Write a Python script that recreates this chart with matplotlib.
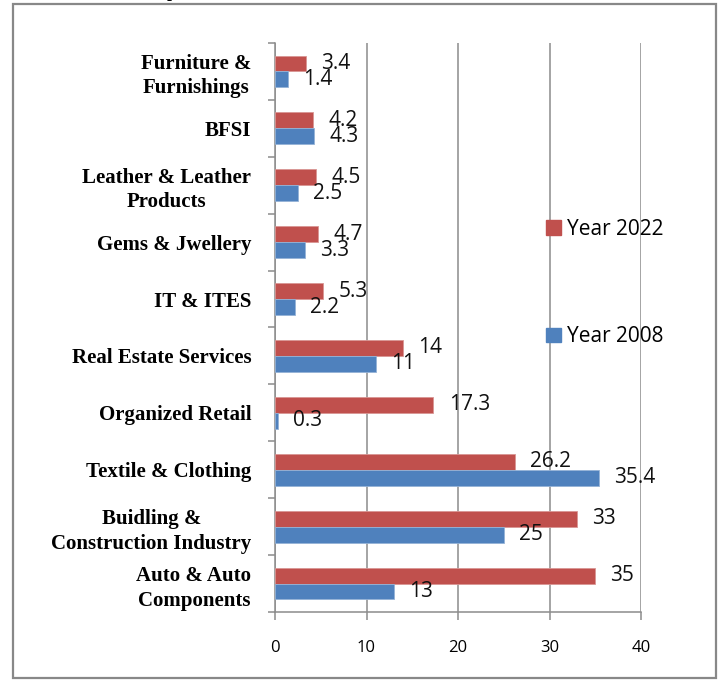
import numpy as np
import matplotlib.pyplot as plt
from matplotlib.patches import Rectangle, Patch

# categories listed bottom -> top
categories = ['Auto & Auto\nComponents', 'Buidling &\nConstruction Industry', 'Textile & Clothing',
              'Organized Retail', 'Real Estate Services', 'IT & ITES', 'Gems & Jwellery',
              'Leather & Leather\nProducts', 'BFSI', 'Furniture &\nFurnishings']
year_2022 = [35, 33, 26.2, 17.3, 14, 5.3, 4.7, 4.5, 4.2, 3.4]
year_2008 = [13, 25, 35.4, 0.3, 11, 2.2, 3.3, 2.5, 4.3, 1.4]
x_ticks = [0, 10, 20, 30, 40]

red = '#C0504D'
blue = '#4F81BD'
grey = '#8c8c8c'
num_font = 'Open Sans'

fig = plt.figure(figsize=(7.2, 6.81), dpi=100)
ax = fig.add_axes([275/720, 1-612/681, (641-275)/720, (612-43)/681])

y = np.arange(len(categories))
h = 0.28
b22 = ax.barh(y + h/2, year_2022, height=h, color=red, edgecolor='#d99694', linewidth=0.6, zorder=3)
b08 = ax.barh(y - h/2, year_2008, height=h, color=blue, edgecolor='#95b3d7', linewidth=0.6, zorder=3)

for yy, v in zip(y, year_2022):
    ax.annotate(f'{v:g}', (v, yy + h/2), xytext=(11, 0), textcoords='offset points',
                va='center', ha='left', fontsize=15, family=num_font, color='#111111')
for yy, v in zip(y, year_2008):
    ax.annotate(f'{v:g}', (v, yy - h/2), xytext=(11, 0), textcoords='offset points',
                va='center', ha='left', fontsize=15, family=num_font, color='#111111')

ax.set_xlim(0, 40)
ax.set_ylim(-0.5, len(categories) - 0.5)
ax.set_xticks(x_ticks)
ax.set_xticklabels([str(t) for t in x_ticks], fontsize=12, family=num_font)
ax.tick_params(axis='x', length=6, width=1.1, color=grey, pad=14, direction='out')

ax.set_yticks(np.arange(len(categories) + 1) - 0.5)
ax.set_yticklabels([])
ax.tick_params(axis='y', which='major', length=5, width=1.1, color=grey, direction='out')
ax.set_yticks(y, minor=True)
ax.set_yticklabels(categories, minor=True, fontsize=15, family='Liberation Serif',
                   fontweight='bold', linespacing=1.3, multialignment='center')
ax.tick_params(axis='y', which='minor', length=0, pad=17)

ax.grid(axis='x', color=grey, linewidth=1.1, zorder=0)
for s in ['top', 'right']:
    ax.spines[s].set_visible(False)
for s in ['left', 'bottom']:
    ax.spines[s].set_color(grey)
    ax.spines[s].set_linewidth(1.1)

handles = [Patch(color=red), Patch(color=blue)]
ax.legend(handles, ['Year 2022', 'Year 2008'], loc='upper left', bbox_to_anchor=(0.713, 0.709),
          frameon=False, prop={'family': num_font, 'size': 15}, handlelength=0.7, handleheight=0.7,
          handletextpad=0.3, labelspacing=4.15, borderpad=0)

# outer frame
fig.add_artist(Rectangle((13/720, 1-678/681), (716-13)/720, (678-4)/681, transform=fig.transFigure,
                         fill=False, edgecolor='#888888', linewidth=1.6))
# cut-off caption fragment at top edge
fig.text(167/720, 1 + 3/681, 'p', fontsize=13, family='Liberation Serif', fontweight='bold',
         va='baseline', ha='left')

fig.savefig('out.png', dpi=100)
